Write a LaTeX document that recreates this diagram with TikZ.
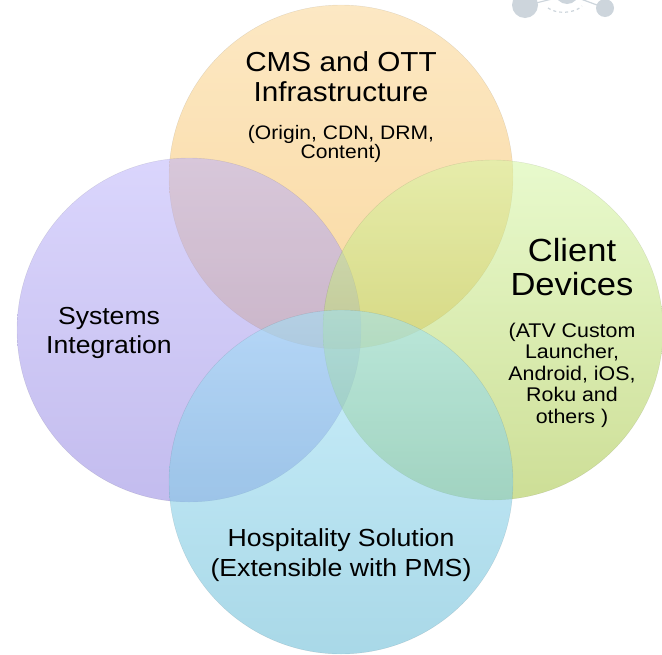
\documentclass[tikz,border=0pt]{standalone}
\usepackage{fontspec}
\setmainfont{Liberation Sans}[FakeStretch=1.08]

\definecolor{cmstop}{RGB}{250,213,146}
\definecolor{cmsbot}{RGB}{244,184,82}
\definecolor{sysitop}{RGB}{188,179,250}
\definecolor{sysibot}{RGB}{146,133,224}
\definecolor{clienttop}{RGB}{213,246,164}
\definecolor{clientbot}{RGB}{164,195,64}
\definecolor{hosptop}{RGB}{160,226,248}
\definecolor{hospbot}{RGB}{98,184,212}
\definecolor{decogray}{RGB}{205,213,220}

\begin{document}
\begin{tikzpicture}[x=1pt,y=-1pt,
    venn/.style={fill opacity=.55, draw=black, draw opacity=.1, line width=.4pt},
    lbl/.style={inner sep=0pt, align=center}]
    	\useasboundingbox (0,0) rectangle (662,654);

    	% logo in the corner
    	\fill[decogray] (525,5) circle (13pt);
    	\fill[decogray] (567,-8) circle (12pt);
    	\fill[decogray] (605,8) circle (9pt);
    	\draw[decogray, line width=1.2pt] (536,3) -- (556,-2);
    	\draw[decogray, line width=1.2pt] (578,-2) -- (597,5);
    	\draw[decogray, line width=1.2pt, dashed] (548,8) .. controls (556,14) and (574,14) .. (582,6);

    	% the four circles
    	\shade[venn, top color=cmstop, bottom color=cmsbot] (341,177) circle (172pt);
    	\shade[venn, top color=sysitop, bottom color=sysibot] (189,330) circle (172pt);
    	\shade[venn, top color=clienttop, bottom color=clientbot] (493,330) circle (170pt);
    	\shade[venn, top color=hosptop, bottom color=hospbot] (341,482) circle (172pt);

    	% texts
    	\node[lbl, font=\fontsize{27.5}{30}\selectfont] (cms) at (341,77) {CMS and OTT\\Infrastructure};
    	\node[lbl, font=\fontsize{19.5}{17.5}\selectfont] (cmssub) at (341,144) {(Origin, CDN, DRM,\\Content)};
    	\node[lbl, font=\fontsize{24.6}{29}\selectfont] (sysi) at (109,333) {Systems\\Integration};
    	\node[lbl, font=\fontsize{32}{34}\selectfont] (client) at (572,267) {Client\\Devices};
    	\node[lbl, font=\fontsize{19.8}{21.5}\selectfont] (clientsub) at (572,375) {(ATV Custom\\Launcher,\\Android, iOS,\\Roku and\\others )};
    	\node[lbl, font=\fontsize{24.7}{30}\selectfont] (hosp) at (341,555) {Hospitality Solution\\(Extensible with PMS)};

\end{tikzpicture}
\end{document}
